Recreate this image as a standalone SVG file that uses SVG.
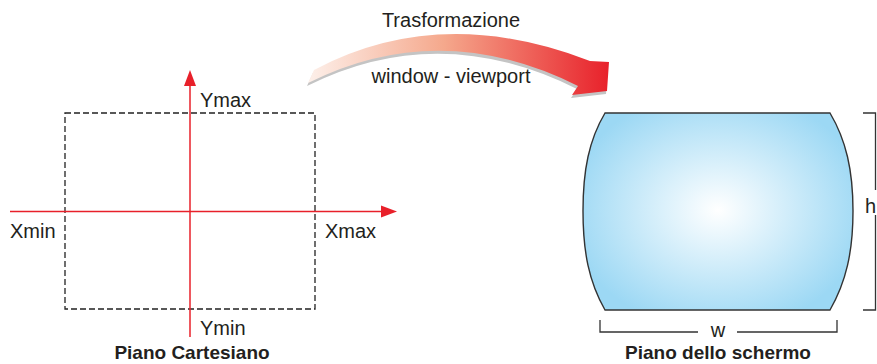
<svg xmlns="http://www.w3.org/2000/svg" width="877" height="364" viewBox="0 0 877 364">
<style>
text{font-family:"Liberation Sans",Arial,sans-serif;fill:#231f20;font-size:20px}
.b{font-weight:bold;font-size:19px}
.ax{stroke:#e8202a;stroke-width:1.5;fill:none}
.ah{fill:#e8202a}
.br{stroke:#333;stroke-width:1.3;fill:none}
</style>
<defs>
<linearGradient id="ag" x1="308" y1="0" x2="610" y2="0" gradientUnits="userSpaceOnUse">
<stop offset="0" stop-color="#fdf0ea"/>
<stop offset="0.45" stop-color="#f5a88c"/>
<stop offset="1" stop-color="#e8202a"/>
</linearGradient>
<radialGradient id="sg" cx="718" cy="210" r="150" gradientUnits="userSpaceOnUse" gradientTransform="translate(718 210) scale(1 0.8) translate(-718 -210)">
<stop offset="0" stop-color="#ffffff"/>
<stop offset="1" stop-color="#9cd8f4"/>
</radialGradient>
</defs>

<g id="transform-arrow">
<path d="M314,70 Q440,3 590,61 L609,62 L607,91 L572,95 L578,86 Q440,17 308,83 Z" fill="#c4c4c4" transform="translate(-1 3)"/>
<path d="M314,70 Q440,3 590,61 L609,62 L607,91 L572,95 L578,86 Q440,17 308,83 Z" fill="url(#ag)"/>
<text x="451" y="27" text-anchor="middle">Trasformazione</text>
<text x="451" y="83" text-anchor="middle">window - viewport</text>
</g>

<g id="cartesian">
<rect x="65" y="113" width="250" height="196" fill="none" stroke="#222" stroke-width="1.3" stroke-dasharray="6,3"/>
<line class="ax" x1="190" y1="84" x2="190" y2="337"/>
<polygon class="ah" points="190,70 184,86 196,86"/>
<line class="ax" x1="10" y1="211.5" x2="383" y2="211.5"/>
<polygon class="ah" points="397,211.5 381,205.5 381,217.5"/>
<text x="200" y="107">Ymax</text>
<text x="10" y="238">Xmin</text>
<text x="325" y="238">Xmax</text>
<text x="200" y="335">Ymin</text>
<text class="b" x="192" y="359" text-anchor="middle">Piano Cartesiano</text>
</g>

<g id="screen">
<path d="M605,113 L830,113 C846,140 853,170 853,211 C853,252 846,282 830,310 L605,310 C589,282 583,252 583,211 C583,170 589,140 605,113 Z" fill="url(#sg)" stroke="#333" stroke-width="1.4"/>
<path class="br" d="M863,113 H875.5 V190 M875.5,215 V310 H863"/>
<text x="865" y="213">h</text>
<path class="br" d="M600,320 V332 H698 M737,332 H837 V320"/>
<text x="718" y="337" text-anchor="middle">w</text>
<text class="b" x="718" y="359" text-anchor="middle">Piano dello schermo</text>
</g>
</svg>
